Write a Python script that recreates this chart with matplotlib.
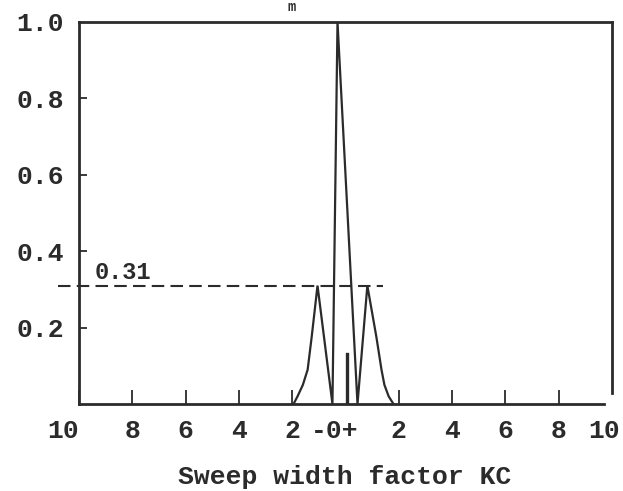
import matplotlib.pyplot as plt

# normalised response vs. sweep width factor (KC)
sweep = [-1.95, -1.80, -1.60, -1.42, -1.27, -1.05, -0.49, -0.30,
         0.45, 0.82, 1.16, 1.35, 1.46, 1.62, 1.80]
response = [0.0, 0.02, 0.05, 0.09, 0.175, 0.31, 0.0, 1.0,
            0.0, 0.31, 0.175, 0.09, 0.05, 0.02, 0.0]

# short spike at the centre
spike_x = 0.05
spike_h = 0.13

sidelobe_level = 0.31
sidelobe_label = "0.31"

xtick_pos = [-10, -8, -6, -4, -2, -0.4, 2, 4, 6, 8, 9.7]
xtick_labels = ["10", "8", "6", "4", "2", "-0+", "2", "4", "6", "8", "10"]
ytick_pos = [0.2, 0.4, 0.6, 0.8, 1.0]
ytick_labels = ["0.2", "0.4", "0.6", "0.8", "1.0"]

ink = "#2b2b2b"
font = "Liberation Mono"

fig = plt.figure(figsize=(6.23, 4.91), dpi=100)
ax = fig.add_axes([79 / 623, 1 - 404 / 491, 533 / 623, 382 / 491])

ax.plot(sweep, response, color=ink, lw=1.6, solid_joinstyle="miter")
ax.plot([spike_x, spike_x], [0, spike_h], color=ink, lw=2.4)

# dashed level line for the side lobes, runs past the left axis
ax.plot([-10.8, 1.4], [sidelobe_level, sidelobe_level], color=ink, lw=1.5,
        dashes=(6, 3), clip_on=False)
ax.text(-9.4, sidelobe_level + 0.005, sidelobe_label, fontsize=17,
        family=font, weight="bold", color=ink, va="bottom", ha="left")

ax.set_xlim(-10, 10)
ax.set_ylim(0, 1.0)

ax.set_xticks(xtick_pos)
ax.set_xticklabels(xtick_labels)
ax.set_yticks(ytick_pos)
ax.set_yticklabels(ytick_labels)

ax.tick_params(axis="x", direction="in", length=10, width=1.3, color=ink,
               pad=11, labelsize=19, labelcolor=ink)
ax.tick_params(axis="y", direction="in", length=6, width=1.3, color=ink,
               pad=11, labelsize=19, labelcolor=ink)
for lab in ax.get_xticklabels() + ax.get_yticklabels():
    lab.set_family(font)
    lab.set_weight("bold")
ax.get_xticklabels()[0].set_horizontalalignment("right")
xticks = ax.xaxis.get_major_ticks()
xticks[5].tick1line.set_visible(False)
xticks[-1].tick1line.set_visible(False)
ax.yaxis.get_major_ticks()[-1].tick1line.set_visible(False)

for side, sp in ax.spines.items():
    sp.set_color(ink)
    sp.set_linewidth(2.0)
ax.spines["right"].set_bounds(0.03, 1.0)
ax.spines["bottom"].set_bounds(-10, 9.7)

fig.text(345 / 623, 1 - 477 / 491, "Sweep width factor KC", fontsize=19,
         family=font, weight="bold", color=ink, ha="center", va="center")
fig.text(292 / 623, 1.0, "m", fontsize=10, family=font, weight="bold",
         color=ink, ha="center", va="top")

fig.savefig("out.png", dpi=100, facecolor="white")
